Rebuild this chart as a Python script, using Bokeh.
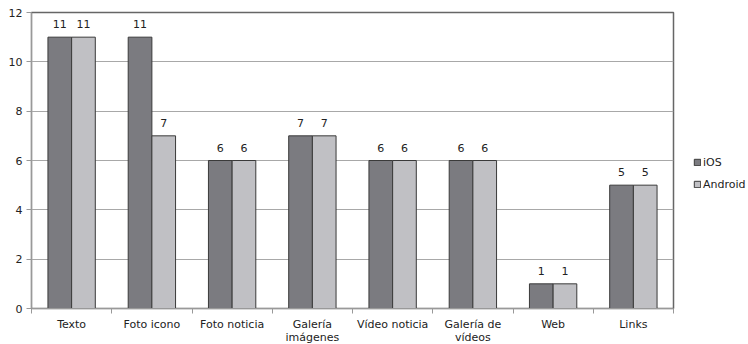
from bokeh.plotting import figure
from bokeh.models import (ColumnDataSource, FixedTicker, Legend, LegendItem,
                          Range1d, LabelSet)
from bokeh.embed import file_html
from bokeh.resources import INLINE
from bokeh.core.properties import value

categories = ["Texto", "Foto icono", "Foto noticia", "Galería\nimágenes",
              "Vídeo noticia", "Galería de\nvídeos", "Web", "Links"]
ios = [11, 11, 6, 7, 6, 6, 1, 5]
android = [11, 7, 6, 7, 6, 6, 1, 5]
y_ticks = [0, 2, 4, 6, 8, 10, 12]

FONT = "DejaVu Sans"
n = len(categories)
centers = [i + 0.5 for i in range(n)]
bw = 0.295

src_ios = ColumnDataSource(dict(x=[c - bw / 2 for c in centers], top=ios,
                                lab=[str(v) for v in ios]))
src_and = ColumnDataSource(dict(x=[c + bw / 2 for c in centers], top=android,
                                lab=[str(v) for v in android]))

p = figure(frame_width=642, frame_height=296, output_backend="svg",
           toolbar_location=None,
           x_range=Range1d(0, n), y_range=Range1d(0, 12),
           min_border_left=31, min_border_right=75, min_border_top=12,
           min_border_bottom=0)
p.background_fill_color = "white"
p.border_fill_color = "white"
p.outline_line_color = "#666666"
p.outline_line_width = 1.5

r1 = p.vbar(x="x", top="top", width=bw, source=src_ios, fill_color="#7b7b80",
            line_color="#3a3a3a", line_width=1)
r2 = p.vbar(x="x", top="top", width=bw, source=src_and, fill_color="#c0c0c4",
            line_color="#3a3a3a", line_width=1)

for s in (src_ios, src_and):
    p.add_layout(LabelSet(x="x", y="top", text="lab", source=s, y_offset=9,
                          text_align="center", text_baseline="bottom",
                          text_font=value(FONT), text_font_size="11px",
                          text_color="#222222"))

p.xgrid.visible = False
p.ygrid.ticker = FixedTicker(ticks=y_ticks)
p.ygrid.grid_line_color = "#a8a8a8"
p.ygrid.grid_line_width = 1

p.xaxis.ticker = FixedTicker(ticks=centers, minor_ticks=list(range(n + 1)))
p.xaxis.major_label_overrides = {c: lab for c, lab in zip(centers, categories)}
p.xaxis.major_tick_out = 0
p.xaxis.major_tick_in = 0
p.xaxis.minor_tick_out = 5
p.xaxis.minor_tick_in = 0
p.xaxis.minor_tick_line_color = "#999999"
p.xaxis.axis_line_color = "#999999"
p.xaxis.major_label_text_font = FONT
p.xaxis.major_label_text_font_size = "11px"
p.xaxis.major_label_text_color = "#222222"
p.xaxis.major_label_standoff = 4
p.xaxis.major_label_text_line_height = 1.0

p.yaxis.ticker = FixedTicker(ticks=y_ticks)
p.yaxis.major_tick_out = 5
p.yaxis.major_tick_in = 0
p.yaxis.minor_tick_line_color = None
p.yaxis.major_tick_line_color = "#999999"
p.yaxis.axis_line_color = "#999999"
p.yaxis.major_label_text_font = FONT
p.yaxis.major_label_text_font_size = "11px"
p.yaxis.major_label_text_color = "#222222"
p.yaxis.major_label_standoff = 4

legend = Legend(items=[LegendItem(label="iOS", renderers=[r1]),
                       LegendItem(label="Android", renderers=[r2])],
                location=(20, 114), padding=0, margin=0, spacing=2,
                glyph_width=8, glyph_height=8, label_standoff=2,
                label_height=20,
                label_text_font=FONT, label_text_font_size="11px",
                label_text_color="#222222", border_line_color=None,
                background_fill_alpha=0)
p.add_layout(legend, "right")

open("out.html", "w").write(file_html(p, INLINE))
